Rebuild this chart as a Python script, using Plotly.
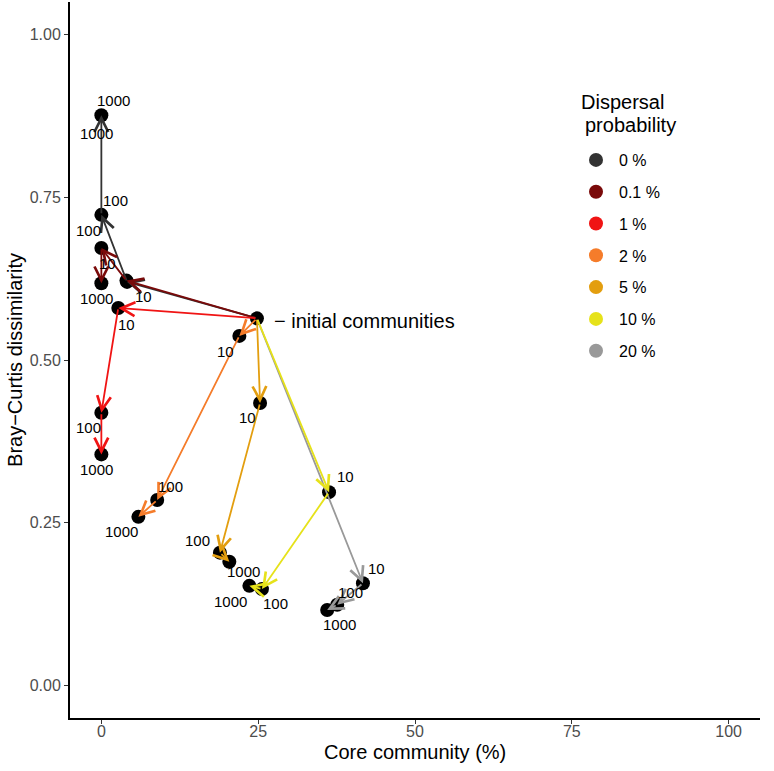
import plotly.graph_objects as go

# ── data ─────────────────────────────────────────────
dispersal = ["0 %", "0.1 %", "1 %", "2 %", "5 %", "10 %", "20 %"]
colors = ["#333333", "#7a0a0a", "#f01414", "#f57c2a", "#e39e0f", "#e6e21a", "#999999"]
times = ["10", "100", "1000"]

init_x = 24.8
init_y = 0.564

# core community (%) at times 10, 100, 1000 for each dispersal level
core = [
    [4.1, 0.0, 0.0],
    [4.0, 0.0, 0.0],
    [2.7, 0.0, 0.0],
    [22.0, 8.9, 5.9],
    [25.3, 18.9, 20.4],
    [36.3, 25.6, 23.6],
    [41.7, 37.6, 36.0],
]
# Bray-Curtis dissimilarity at times 10, 100, 1000
bray = [
    [0.620, 0.723, 0.876],
    [0.622, 0.672, 0.618],
    [0.580, 0.419, 0.355],
    [0.537, 0.285, 0.259],
    [0.434, 0.204, 0.190],
    [0.297, 0.148, 0.153],
    [0.157, 0.124, 0.116],
]

# label offsets in pixels (style only)
label_shift = [
    [(16, 15), (14, -14), (12, -15)],
    [(-19, -17), (-13, -18), (-5, 15)],
    [(8, 17), (-13, 15), (-5, 15)],
    [(-14, 16), (13, -13), (-17, 15)],
    [(-13, 15), (-22, -12), (14, 10)],
    [(16, -16), (14, 14), (-19, 16)],
    [(14, -15), (13, -12), (12, 15)],
]
# order in which the arrows are stacked (grey sits under yellow)
draw_order = [6, 0, 1, 2, 3, 4, 5]

FONT = "Liberation Sans, Arial, sans-serif"

fig = go.Figure()

# black points
all_x = [init_x] + [v for row in core for v in row]
all_y = [init_y] + [v for row in bray for v in row]
fig.add_trace(go.Scatter(x=all_x, y=all_y, mode="markers",
                         marker=dict(color="black", size=14), showlegend=False,
                         hoverinfo="skip"))

# legend entries
for name, col in zip(dispersal, colors):
    fig.add_trace(go.Scatter(x=[None], y=[None], mode="markers", name=name,
                             legendgroup=name,
                             marker=dict(color=col, size=14)))

annotations = []
# arrows
for i in draw_order:
    col = colors[i]
    xs = [init_x] + core[i]
    ys = [init_y] + bray[i]
    for k in range(3):
        annotations.append(dict(
            x=xs[k + 1], y=ys[k + 1], ax=xs[k], ay=ys[k],
            xref="x", yref="y", axref="x", ayref="y",
            text="", showarrow=True, arrowhead=5, arrowsize=1.5,
            arrowwidth=1.8, arrowcolor=col, standoff=0, startstandoff=0))

# time labels
for i in range(len(colors)):
    for k, t in enumerate(times):
        dx, dy = label_shift[i][k]
        annotations.append(dict(
            x=core[i][k], y=bray[i][k], text=t, showarrow=False,
            xshift=dx, yshift=-dy, font=dict(size=15, color="black", family=FONT)))
# second label at the top point
annotations.append(dict(x=core[0][2], y=bray[0][2], text="1000", showarrow=False,
                        xshift=-5, yshift=-18,
                        font=dict(size=15, color="black", family=FONT)))

annotations.append(dict(x=init_x, y=init_y, text="− initial communities",
                        showarrow=False, xanchor="left", xshift=15, yshift=-3,
                        font=dict(size=20, color="black", family=FONT)))

# legend title and x-axis title placed by hand
title_font = dict(size=20, color="black", family=FONT)
annotations += [
    dict(text="Dispersal", xref="paper", yref="paper", x=(579 - 70) / 690,
         y=(718 - 102) / 716, xanchor="left", yanchor="middle",
         showarrow=False, font=title_font),
    dict(text="probability", xref="paper", yref="paper", x=(583 - 70) / 690,
         y=(718 - 125) / 716, xanchor="left", yanchor="middle",
         showarrow=False, font=title_font),
    dict(text="Core community (%)", xref="paper", yref="paper", x=0.5,
         y=(718 - 752) / 716, xanchor="center", yanchor="middle",
         showarrow=False, font=title_font),
]

fig.update_layout(
    width=774, height=771,
    margin=dict(l=70, r=14, t=2, b=53),
    plot_bgcolor="white", paper_bgcolor="white",
    font=dict(family=FONT),
    annotations=annotations,
    legend=dict(
        x=(573 - 70) / 690, y=(718 - 143) / 716, xanchor="left", yanchor="top",
        font=dict(size=16, color="black"),
        traceorder="grouped", tracegroupgap=8, itemwidth=36,
        bgcolor="rgba(0,0,0,0)",
    ),
    xaxis=dict(
        range=[-5, 105], tickvals=[0, 25, 50, 75, 100],
        showgrid=False, zeroline=False,
        showline=True, linecolor="black", linewidth=2,
        ticks="outside", ticklen=4, tickcolor="#333333", tickwidth=1,
        tickfont=dict(size=16, color="#4d4d4d"), ticklabelstandoff=-6,
    ),
    yaxis=dict(
        range=[-0.05, 1.05], tickvals=[0, 0.25, 0.5, 0.75, 1],
        ticktext=["0.00", "0.25", "0.50", "0.75", "1.00"],
        showgrid=False, zeroline=False,
        showline=True, linecolor="black", linewidth=2,
        ticks="outside", ticklen=4, tickcolor="#333333", tickwidth=1,
        tickfont=dict(size=16, color="#4d4d4d"),
        title=dict(text="Bray−Curtis dissimilarity", font=dict(size=20, color="black"),
                   standoff=2),
    ),
)

fig.write_html("out.html", config={"displayModeBar": False},
               post_script="document.body.style.margin='0px';")
